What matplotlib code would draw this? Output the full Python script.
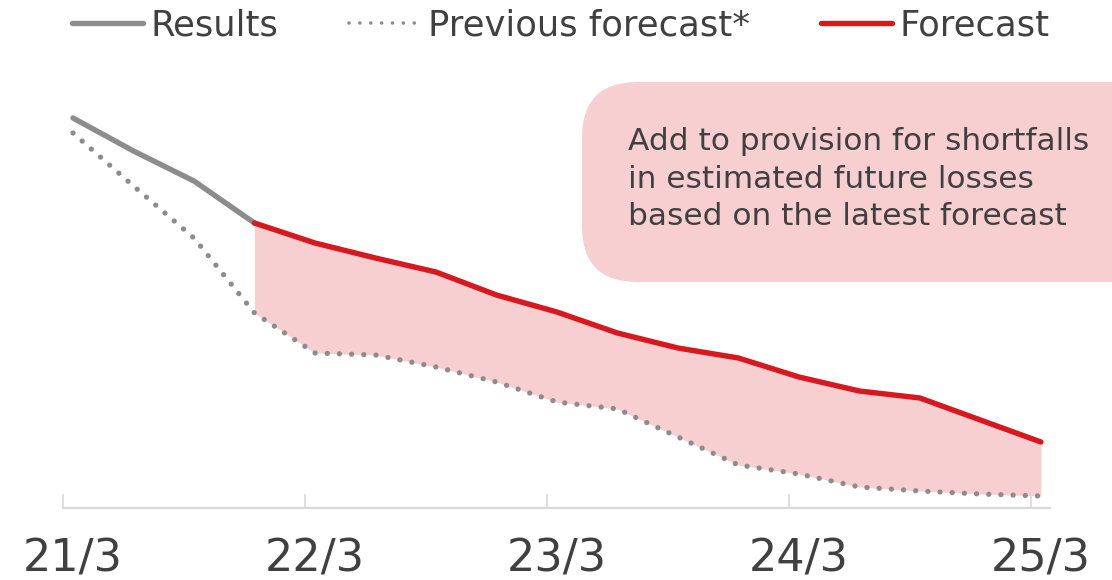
import matplotlib
matplotlib.use("Agg")
import matplotlib.pyplot as plt
from matplotlib.lines import Line2D
from matplotlib.patches import FancyBboxPatch

plt.rcParams['font.family'] = ['DejaVu Sans']

# Quarterly index (0 = first result point)
quarters = list(range(17))
results_x = [0, 1, 2, 3]
results = [390, 357, 327, 285]
previous = [375, 322, 270, 195, 155, 153, 141, 126, 106, 99, 71, 43, 34, 21, 17, 14, 12]
forecast_x = list(range(3, 17))
forecast = [285, 265, 250, 236, 213, 196, 175, 160, 150, 131, 117, 110, 88, 66]

label_pos = [0, 4, 8, 12, 16]
tick_pos = [-0.165, 3.835, 7.835, 11.835, 15.835]
tick_labels = ["21/3", "22/3", "23/3", "24/3", "25/3"]

legend_labels = ["Results", "Previous forecast*", "Forecast"]
note_text = "Add to provision for shortfalls\nin estimated future losses\nbased on the latest forecast"

GRAY = "#8C8C8C"
RED = "#D7191F"
FILL = "#F8CFD0"
TEXT = "#404040"
AXIS = "#D9D9D9"

W, H = 1112, 580
fig = plt.figure(figsize=(W / 100, H / 100), dpi=100)
ax = fig.add_axes([63 / W, (H - 508) / H, (1050 - 63) / W, 448 / H])
ax.set_xlim(-0.165, 16.15)
ax.set_ylim(0, 448)

# Note box (behind everything)
box = FancyBboxPatch((582 / W, (H - 282) / H), 600 / W, 200 / H,
                     boxstyle="round,pad=0,rounding_size=0.05",
                     transform=fig.transFigure, facecolor=FILL, edgecolor="none",
                     mutation_aspect=W / H, zorder=0)
fig.patches.append(box)
fig.text(628 / W, (H - 179) / H, note_text, fontsize=22.5, color=TEXT,
         ha="left", va="center", linespacing=1.36)

prev_sub = previous[3:]
ax.fill_between(forecast_x, forecast, prev_sub, color=FILL, linewidth=0, zorder=1)
ax.plot(quarters, previous, color=GRAY, linewidth=3.8, linestyle=(0, (0.01, 2.3)),
        dash_capstyle="round", zorder=2)
ax.plot(results_x, results, color=GRAY, linewidth=3.9, solid_capstyle="round", zorder=3)
ax.plot(forecast_x, forecast, color=RED, linewidth=3.9, solid_capstyle="round",
        solid_joinstyle="round", zorder=4)

for s in ["top", "right", "left"]:
    ax.spines[s].set_visible(False)
ax.spines["bottom"].set_color(AXIS)
ax.spines["bottom"].set_linewidth(1.5)
ax.set_yticks([])
ax.set_xticks(tick_pos)
ax.set_xticklabels([])
ax.tick_params(axis="x", which="major", direction="in", length=10, width=1.2, color=AXIS)
ax.set_xticks(label_pos, minor=True)
ax.set_xticklabels(tick_labels, minor=True, fontsize=32, color=TEXT)
ax.tick_params(axis="x", which="minor", length=0, pad=21)

handles = [
    Line2D([], [], color=GRAY, linewidth=3.9, solid_capstyle="round"),
    Line2D([], [], color=GRAY, linewidth=2.6, linestyle=(0, (0.01, 3.0)), dash_capstyle="round"),
    Line2D([], [], color=RED, linewidth=3.9, solid_capstyle="round"),
]
leg = fig.legend(handles, legend_labels, loc="center left",
                 bbox_to_anchor=(72 / W, (H - 25) / H), ncol=3, frameon=False,
                 fontsize=25.5, handlelength=2.0, handletextpad=0.22,
                 columnspacing=2.0, borderpad=0, borderaxespad=0)
for t in leg.get_texts():
    t.set_color(TEXT)

fig.savefig("out.png", dpi=100)
